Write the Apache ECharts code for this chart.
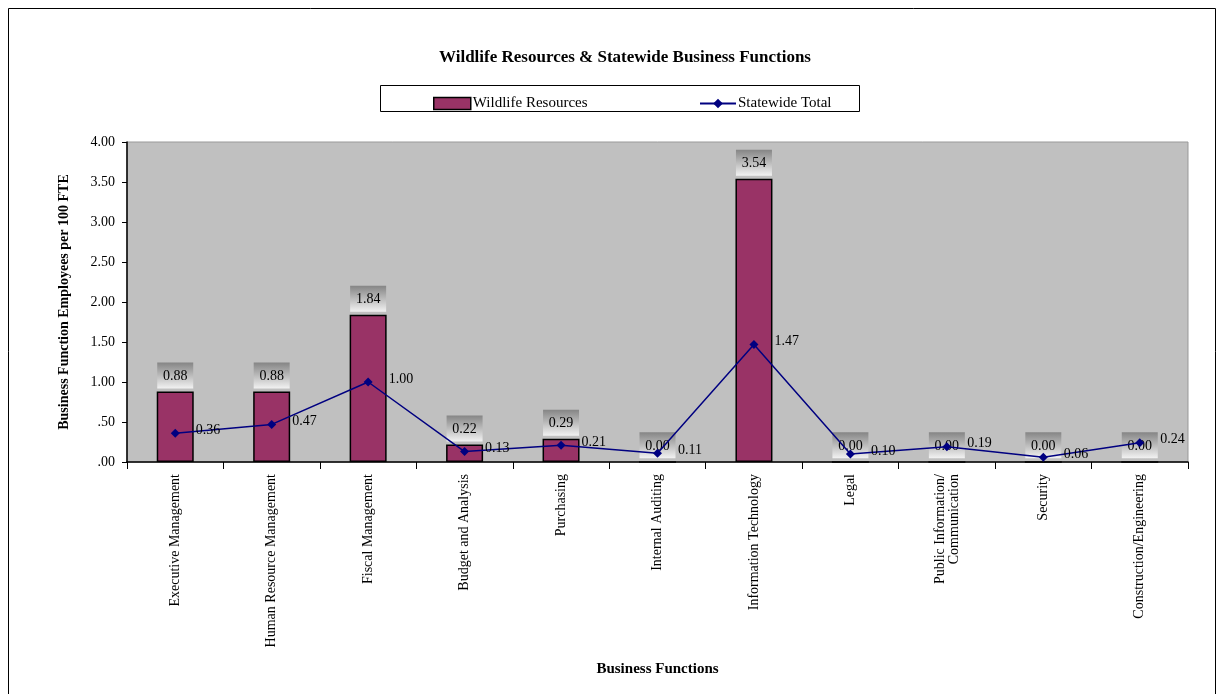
<!DOCTYPE html>
<html><head><meta charset="utf-8">
<script src="https://cdn.jsdelivr.net/npm/echarts@6/dist/echarts.min.js"></script>
<style>html,body{margin:0;padding:0;background:#fff}#c{width:1223px;height:694px}</style>
</head><body><div id="c"></div>
<script>
const categories = ["Executive Management","Human Resource Management","Fiscal Management","Budget and Analysis","Purchasing","Internal Auditing","Information Technology","Legal","Public Information/\nCommunication","Security","Construction/Engineering"];
const wildlifeValues = [0.88,0.88,1.84,0.22,0.29,0.00,3.54,0.00,0.00,0.00,0.00];
const statewideValues = [0.36,0.47,1.00,0.13,0.21,0.11,1.47,0.10,0.19,0.06,0.24];
const yTicks = [0,0.5,1,1.5,2,2.5,3,3.5,4];

const serif = 'Liberation Serif';
const chart = echarts.init(document.getElementById('c'));
const fmtY = v => { const s = v.toFixed(2); return v < 1 ? s.replace(/^0/, '') : s; };
chart.setOption({
  animation: false,
  textStyle: {fontFamily: serif},
  graphic: [
    {type:'rect', shape:{x:8.5,y:8.5,width:1207,height:700}, style:{fill:'none',stroke:'#000',lineWidth:1}},
    {type:'rect', shape:{x:380.5,y:85.5,width:479,height:26}, style:{fill:'#fff',stroke:'#000',lineWidth:1}, z:-1}
  ],
  title: {text:'Wildlife Resources & Statewide Business Functions', left:620, textAlign:'center', top:44,
    textStyle:{fontFamily:serif, fontSize:17, fontWeight:'bold', color:'#000'}},
  legend: [
    {data:[{name:'Wildlife Resources', icon:'rect'}], left:428, top:91, itemWidth:37, itemHeight:12, itemGap:0,
      itemStyle:{borderColor:'#000', borderWidth:1.5},
      textStyle:{fontFamily:serif, fontSize:15, color:'#000', padding:[0,0,0,-3]}},
    {data:['Statewide Total'], left:694, top:91, itemWidth:36, itemHeight:12,
      textStyle:{fontFamily:serif, fontSize:15, color:'#000', padding:[0,0,0,-3]}}
  ],
  grid: {left:127, right:35, top:142, bottom:232, show:true, backgroundColor:'#c0c0c0', borderColor:'#999', borderWidth:1},
  xAxis: {type:'category', data:categories, boundaryGap:true,
    name:'Business Functions', nameLocation:'middle', nameGap:200,
    nameTextStyle:{fontFamily:serif, fontSize:15, fontWeight:'bold', color:'#000'},
    axisLine:{lineStyle:{color:'#000', width:1.5}},
    axisTick:{show:true, length:7, lineStyle:{color:'#000'}},
    axisLabel:{rotate:90, interval:0, margin:12, fontFamily:serif, fontSize:14, color:'#000', lineHeight:14}},
  yAxis: {type:'value', min:0, max:4, interval:0.5,
    name:'Business Function Employees per 100 FTE', nameLocation:'middle', nameGap:56,
    nameTextStyle:{fontFamily:serif, fontSize:14, fontWeight:'bold', color:'#000'},
    axisLine:{show:true, lineStyle:{color:'#000', width:1.5}},
    axisTick:{show:true, length:5, lineStyle:{color:'#000'}},
    splitLine:{show:false},
    axisLabel:{formatter: fmtY, fontFamily:serif, fontSize:14, color:'#000', margin:12}},
  series: [
    {name:'Wildlife Resources', type:'bar', data:wildlifeValues, barWidth:37,
      itemStyle:{color:'#993366', borderColor:'#000', borderWidth:1.5},
      label:{show:true, position:'top', distance:3, formatter: p => p.value.toFixed(2),
        fontFamily:serif, fontSize:14, color:'#000', width:36, align:'center', padding:[7,0,5,0],
        backgroundColor:{type:'linear',x:0,y:0,x2:0,y2:1,colorStops:[{offset:0,color:'#858585'},{offset:1,color:'#f2f2f2'}]}}},
    {name:'Statewide Total', type:'line', data:statewideValues, symbol:'diamond', symbolSize:9,
      color:'#000080', lineStyle:{color:'#000080', width:1.5}, itemStyle:{color:'#000080'}, z:3,
      label:{show:true, position:'right', distance:16, offset:[0,-3], formatter: p => p.value.toFixed(2),
        fontFamily:serif, fontSize:14, color:'#000'}}
  ]
});
</script></body></html>
